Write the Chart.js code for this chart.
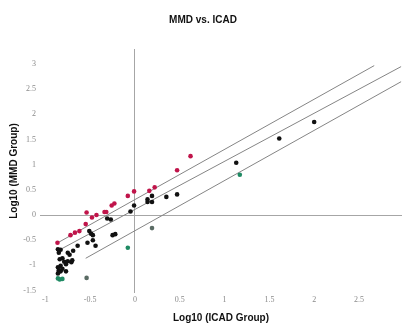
<!DOCTYPE html>
<html>
<head>
<meta charset="utf-8">
<script src="https://cdn.jsdelivr.net/npm/chart.js@4/dist/chart.umd.min.js"></script>
<style>
  html, body { margin: 0; padding: 0; background: #fff; }
</style>
</head>
<body>
<canvas id="chart" width="406" height="330"></canvas>
<script>
    // log10 values
    const redX = [-0.865, -0.72, -0.67, -0.62, -0.55, -0.54, -0.48, -0.43, -0.34, -0.32, -0.26, -0.23, -0.08, -0.01, 0.16, 0.22, 0.47, 0.62];
    const redY = [-0.55, -0.40, -0.35, -0.32, -0.18, 0.05, -0.05, 0.0, 0.06, 0.06, 0.19, 0.23, 0.38, 0.47, 0.48, 0.55, 0.89, 1.17];

    const blackX = [-0.86, -0.83, -0.85, -0.75, -0.73, -0.69, -0.64, -0.84, -0.81, -0.79, -0.75, -0.71, -0.70, -0.77, -0.83, -0.86, -0.85, -0.83, -0.86, -0.81, -0.77,
        -0.51, -0.49, -0.47, -0.53, -0.47, -0.44, -0.31, -0.27, -0.25, -0.22, -0.05, -0.01, 0.14, 0.14, 0.19, 0.19, 0.35, 0.47, 1.13, 1.61, 2.0];
    const blackY = [-0.68, -0.69, -0.75, -0.75, -0.79, -0.71, -0.61, -0.88, -0.86, -0.93, -0.92, -0.94, -0.90, -0.98, -1.01, -1.04, -1.10, -1.12, -1.16, -1.07, -1.12,
        -0.32, -0.37, -0.40, -0.55, -0.50, -0.61, -0.07, -0.09, -0.40, -0.38, 0.07, 0.19, 0.31, 0.26, 0.38, 0.26, 0.36, 0.41, 1.04, 1.52, 1.85];

    const greenX = [-0.86, -0.84, -0.81, -0.08, 1.17];
    const greenY = [-1.26, -1.28, -1.27, -0.65, 0.80];

    const greyX = [-0.54, 0.19];
    const greyY = [-1.25, -0.26];

    // the three fitted lines, start and end points
    const upperX = [-0.86, 2.67];
    const upperY = [-0.55, 2.97];
    const midX = [-0.87, 2.97];
    const midY = [-0.72, 2.95];
    const lowerX = [-0.55, 2.97];
    const lowerY = [-0.86, 2.65];

    function pts(xs, ys) {
        return xs.map(function (x, i) { return { x: x, y: ys[i] }; });
    }

    function dots(xs, ys, color) {
        return { data: pts(xs, ys), backgroundColor: color, borderColor: color, pointRadius: 2.3, pointBorderWidth: 0 };
    }

    function line(xs, ys) {
        return { type: 'line', data: pts(xs, ys), borderColor: '#858585', borderWidth: 1, pointRadius: 0, showLine: true, fill: false };
    }

    // only the half steps get a label
    function halfStep(value) {
        if (Math.abs(value * 2 - Math.round(value * 2)) < 1e-6) {
            return String(Math.round(value * 2) / 2);
        }
        return '';
    }

    // only the zero lines are drawn
    function zeroLine(ctx) {
        return ctx.tick && Math.abs(ctx.tick.value) < 1e-9 ? '#a6a6a6' : 'rgba(0,0,0,0)';
    }

    const tickFont = { family: 'Liberation Serif', size: 8 };
    const titleFont = { family: 'Liberation Sans', size: 10, weight: 'bold' };

    new Chart('chart', {
        type: 'scatter',
        data: {
            datasets: [
                dots(redX, redY, '#c0144a'),
                dots(greenX, greenY, '#1f8a63'),
                dots(greyX, greyY, '#5a6b64'),
                dots(blackX, blackY, '#111111'),
                line(upperX, upperY),
                line(midX, midY),
                line(lowerX, lowerY)
            ]
        },
        options: {
            responsive: false,
            animation: false,
            devicePixelRatio: 1,
            layout: { padding: 0 },
            plugins: {
                legend: { display: false },
                tooltip: { enabled: false },
                title: {
                    display: true,
                    text: 'MMD vs. ICAD',
                    font: titleFont,
                    color: '#111',
                    padding: { top: 14, bottom: 23 }
                }
            },
            scales: {
                x: {
                    type: 'linear',
                    min: -1.06,
                    max: 2.98,
                    afterFit: function (scale) { scale.height = 37; },
                    border: { display: false },
                    grid: { color: zeroLine, drawTicks: false, lineWidth: 1 },
                    ticks: { stepSize: 0.5, includeBounds: false, font: tickFont, color: '#8a8a8a', padding: 2, maxRotation: 0, autoSkip: false, callback: halfStep },
                    title: { display: true, text: 'Log10 (ICAD Group)', font: titleFont, color: '#111', padding: { top: 4, bottom: 6 } }
                },
                y: {
                    type: 'linear',
                    min: -1.55,
                    max: 3.3,
                    afterFit: function (scale) { scale.width = 40; },
                    border: { display: false },
                    grid: { color: zeroLine, drawTicks: false, lineWidth: 1 },
                    ticks: { stepSize: 0.5, includeBounds: false, font: tickFont, color: '#8a8a8a', padding: 4, autoSkip: false, callback: halfStep },
                    title: { display: true, text: 'Log10 (MMD Group)', font: titleFont, color: '#111', padding: { top: 8, bottom: 0 } }
                }
            }
        }
    });
</script>
</body>
</html>
